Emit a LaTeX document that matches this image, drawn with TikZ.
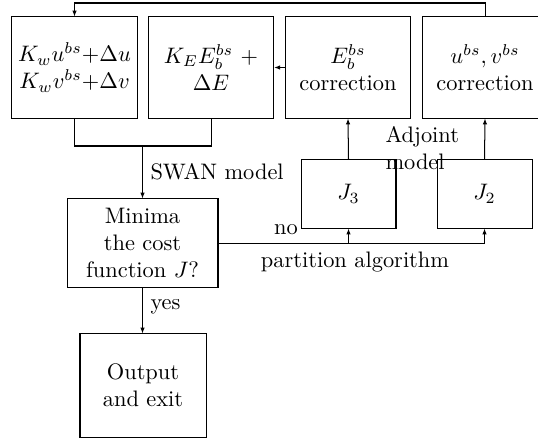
\documentclass[tikz,border=0pt]{standalone}
\usetikzlibrary{arrows.meta}
\begin{document}
\begin{tikzpicture}[x=0.4464pt,y=-0.4464pt,
  box/.style={draw,align=center,inner sep=0pt},
  topbox/.style={box,minimum width=56pt,minimum height=45.1pt},
  jbox/.style={box,minimum width=42.4pt,minimum height=30.4pt},
  lbl/.style={inner sep=0pt},
  arr/.style={-{Latex[length=2.6pt,width=2pt]}},
  line width=0.45pt]
\useasboundingbox (0,0) rectangle (538,438);
\node[topbox] (b1) at (74.5,67.5) {$K_wu^{bs}{+}\Delta u$\\$K_wv^{bs}{+}\Delta v$};
\node[topbox] (b2) at (211,67.5) {$K_EE_b^{bs}$ +\\$\Delta E$};
\node[topbox] (b3) at (348,67.5) {$E_b^{bs}$\\correction};
\node[topbox] (b4) at (485,67.5) {$u^{bs}, v^{bs}$\\correction};
\node[jbox] (j3) at (348.5,194) {$J_3$};
\node[jbox] (j2) at (484.5,194) {$J_2$};
\node[box,minimum width=67.4pt,minimum height=39.3pt] (mn) at (142.5,243) {Minima\\the cost\\function $J$?};
\node[box,minimum width=56.25pt,minimum height=46pt] (out) at (143,385.5) {Output\\and exit};
\coordinate (top) at (0,3);
\coordinate (sw) at (0,146);
\coordinate (nr) at (0,243);
% feedback
\draw[arr] (b4.north) -- (b4.north |- top) -- (b1.north |- top) -- (b1.north);
\draw[arr] (b3.west) -- (b2.east);
% SWAN model merge
\draw (b1.south) -- (b1.south |- sw) -- (b2.south |- sw) -- (b2.south);
\coordinate (swm) at (mn.north |- sw);
\draw[arr] (swm) -- (mn.north);
\node[lbl,anchor=west] (swan) at (150,172) {SWAN model};
% no branch
\draw[arr] (mn.east) -- (j2.south |- mn.east) -- (j2.south);
\draw[arr] (j3.south |- mn.east) -- (j3.south);
\node[lbl] (no) at (286,230) {no};
\node[lbl] (part) at (355,262) {partition algorithm};
% adjoint
\draw[arr] (j3.north) -- (b3.south);
\draw[arr] (j2.north) -- (b4.south);
\node[lbl,anchor=west,align=left] (adj) at (385,148) {Adjoint\\model};
% yes
\draw[arr] (mn.south) -- (mn.south |- out.north);
\node[lbl,anchor=west] (yes) at (150,307) {yes};
\end{tikzpicture}
\end{document}
